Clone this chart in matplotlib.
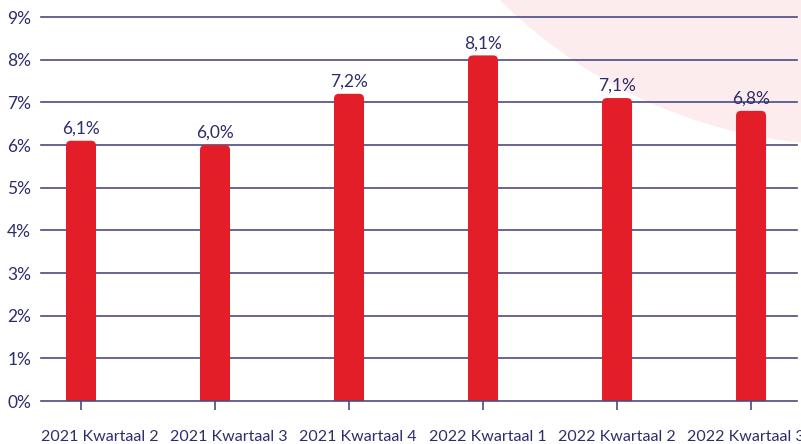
import matplotlib
matplotlib.use('Agg')
import matplotlib.pyplot as plt
from matplotlib.patches import FancyBboxPatch, Ellipse

plt.rcParams['font.family'] = ['Lato', 'DejaVu Sans']

quarters = ['2021 Kwartaal 2', '2021 Kwartaal 3', '2021 Kwartaal 4',
            '2022 Kwartaal 1', '2022 Kwartaal 2', '2022 Kwartaal 3']
values = [6.1, 6.0, 7.2, 8.1, 7.1, 6.8]
yticks = [0, 1, 2, 3, 4, 5, 6, 7, 8, 9]

navy = '#2e2d6c'
line_col = '#4a4a85'
red = '#e31e28'
pink = '#fdecee'

W, H = 801, 444
fig = plt.figure(figsize=(W / 100, H / 100), dpi=100)

# pink circle in the top right corner (figure pixel coords -> fraction)
cx, cy, r = 850, -350, 495
fig.patches.append(Ellipse((cx / W, 1 - cy / H), 2 * r / W, 2 * r / H,
                           transform=fig.transFigure, facecolor=pink,
                           edgecolor='none', zorder=-5))

ax = fig.add_axes([41 / W, 1 - 401 / H, 756 / W, 384 / H])
ax.set_facecolor('none')
ax.set_xlim(-0.2985, 5.343)
ax.set_ylim(0, 9)

# bars with rounded tops
bar_w = 0.224
rad = 0.037
asp = (134 / 1.0) / (384 / 9.0)
for i, v in enumerate(values):
    p = FancyBboxPatch((i - bar_w / 2, -0.5), bar_w, v + 0.5,
                       boxstyle='round,pad=0,rounding_size=%f' % rad,
                       mutation_aspect=asp, facecolor=red, edgecolor='none',
                       zorder=3)
    ax.add_patch(p)
    ax.annotate(('%.1f%%' % v).replace('.', ','), (i, v), xytext=(0, 5),
                textcoords='offset points', ha='center', va='baseline',
                fontsize=12.5, color=navy, zorder=4)

for y in yticks:
    ax.axhline(y, color=line_col, lw=1.2, zorder=2 if y > 0 else 5,
               clip_on=False)

for s in ax.spines.values():
    s.set_visible(False)

ax.set_yticks(yticks)
ax.set_yticklabels(['%d%%' % y for y in yticks])
ax.tick_params(axis='y', length=0, pad=7, labelsize=12.5, labelcolor=navy)

ax.set_xticks(range(len(quarters)))
ax.set_xticklabels([])
ax.tick_params(axis='x', length=6.5, width=1.2, color=line_col)

# category labels are spread evenly from the left edge of the plot,
# not centred under the ticks
for k, q in enumerate(quarters):
    ax.text(k * 129.2 / 756, -36 / 384, q, transform=ax.transAxes,
            ha='left', va='center', fontsize=11.5, color=navy,
            clip_on=False)

fig.savefig('out.png', dpi=100)
